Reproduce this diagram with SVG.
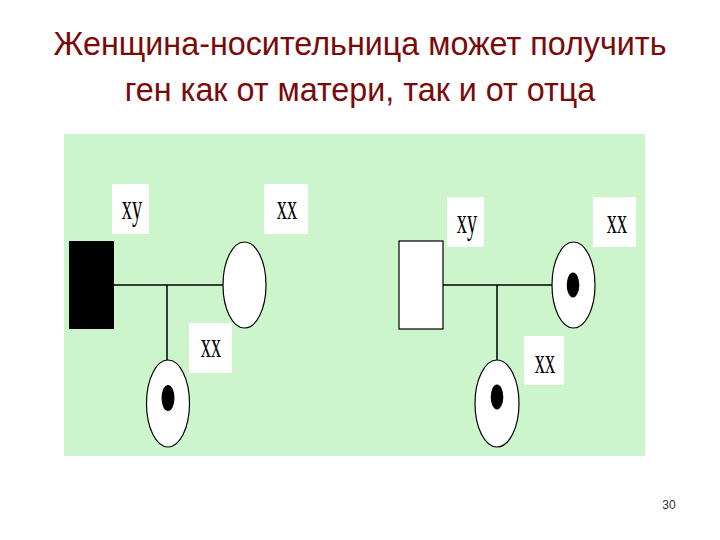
<svg xmlns="http://www.w3.org/2000/svg" width="720" height="540" viewBox="0 0 720 540">
<style>
.title{font-family:"Liberation Sans",Arial,sans-serif;font-size:32.3px;fill:#7a0a0a;text-anchor:middle}
.lab{font-family:"Liberation Serif","Times New Roman",serif;font-size:35px;fill:#000;text-anchor:middle}
.box{fill:#fff;stroke:none}
.ln{stroke:#000;stroke-width:1.5;fill:none}
.fem{fill:#fff;stroke:#000;stroke-width:1.2}
.dot{fill:#000}
</style>
<rect width="720" height="540" fill="#fff"/>
<text class="title" x="360" y="55">Женщина-носительница может получить</text>
<text class="title" x="360" y="101">ген как от матери, так и от отца</text>
<rect x="64" y="134" width="581" height="322" fill="#ccf5cc"/>
<g id="connectors">
<line class="ln" x1="114" y1="285" x2="223" y2="285"/>
<line class="ln" x1="167" y1="285" x2="167" y2="360"/>
<line class="ln" x1="443" y1="285" x2="552" y2="285"/>
<line class="ln" x1="497" y1="285" x2="497" y2="360"/>
</g>
<g id="labels-left">
<rect class="box" x="112" y="184" width="37" height="50"/>
<text class="lab" transform="translate(132,219) scale(0.58,1)">xy</text>
<rect class="box" x="264" y="184" width="44" height="50"/>
<text class="lab" transform="translate(287,219) scale(0.58,1)">xx</text>
<rect class="box" x="189" y="323" width="43" height="50"/>
<text class="lab" transform="translate(211,357) scale(0.58,1)">xx</text>
</g>
<g id="labels-right">
<rect class="box" x="447" y="197" width="37" height="50"/>
<text class="lab" transform="translate(467,233) scale(0.58,1)">xy</text>
<rect class="box" x="593" y="197" width="43" height="50"/>
<text class="lab" transform="translate(617,233) scale(0.58,1)">xx</text>
<rect class="box" x="524" y="336" width="40" height="49"/>
<text class="lab" transform="translate(545,373) scale(0.58,1)">xx</text>
</g>
<g id="father-left"><rect x="69" y="241" width="45" height="88" fill="#000"/></g>
<g id="mother-left"><ellipse class="fem" cx="244.5" cy="285" rx="21.5" ry="43"/></g>
<g id="daughter-left"><ellipse class="fem" cx="168" cy="403.5" rx="21.5" ry="43.5"/><ellipse class="dot" cx="168" cy="398" rx="6.5" ry="13"/></g>
<g id="father-right"><rect x="399" y="241" width="44" height="88" fill="#fff" stroke="#000" stroke-width="1.2"/></g>
<g id="mother-right"><ellipse class="fem" cx="573.5" cy="285" rx="21.5" ry="43"/><ellipse class="dot" cx="573" cy="285" rx="6.3" ry="12.5"/></g>
<g id="daughter-right"><ellipse class="fem" cx="497" cy="403.5" rx="22" ry="43.5"/><ellipse class="dot" cx="497" cy="397" rx="6.3" ry="12.5"/></g>
<text x="669" y="509" font-family="'Liberation Sans',Arial,sans-serif" font-size="12" fill="#333" text-anchor="middle">30</text>
</svg>
